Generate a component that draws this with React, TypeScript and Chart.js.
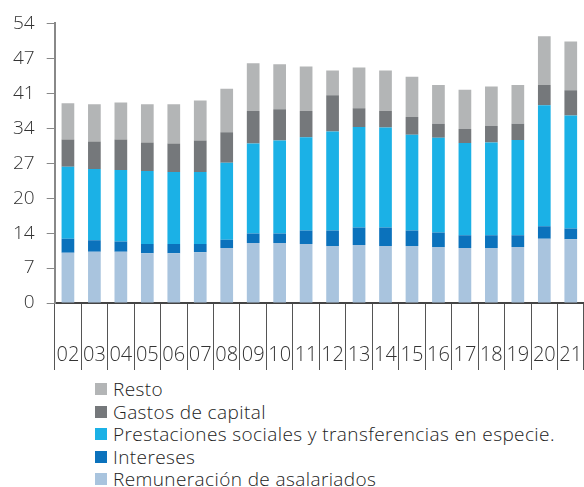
import React, { useEffect, useRef } from "react";
import { Chart, registerables } from "chart.js";

Chart.register(...registerables);

const years = ["02", "03", "04", "05", "06", "07", "08", "09", "10", "11", "12", "13", "14", "15", "16", "17", "18", "19", "20", "21"];
const remuneracion = [9.7, 9.9, 9.9, 9.6, 9.6, 9.8, 10.6, 11.6, 11.6, 11.4, 11.0, 11.2, 11.0, 11.0, 10.8, 10.6, 10.6, 10.8, 12.4, 12.3];
const intereses = [2.7, 2.2, 2.0, 1.8, 1.8, 1.6, 1.6, 1.8, 1.8, 2.6, 3.0, 3.4, 3.6, 3.0, 2.8, 2.5, 2.5, 2.3, 2.4, 2.1];
const prestaciones = [13.9, 13.8, 13.8, 14.1, 13.9, 13.9, 14.9, 17.4, 18.0, 18.0, 19.1, 19.4, 19.3, 18.5, 18.3, 17.8, 17.9, 18.4, 23.4, 21.8];
const gastosCapital = [5.3, 5.3, 5.9, 5.5, 5.5, 6.1, 5.9, 6.3, 6.0, 5.1, 7.0, 3.6, 3.2, 3.4, 2.7, 2.7, 3.2, 3.1, 3.9, 4.9];
const resto = [7.0, 7.2, 7.1, 7.4, 7.6, 7.7, 8.4, 9.2, 8.7, 8.6, 4.8, 7.9, 7.8, 7.8, 7.5, 7.6, 7.6, 7.5, 9.4, 9.4];

const seriesLabels = [
  "Remuneración de asalariados",
  "Intereses",
  "Prestaciones sociales y transferencias en especie.",
  "Gastos de capital",
  "Resto",
];
const seriesColors = ["#a9c4de", "#0b72bc", "#1bb1e6", "#75787b", "#b3b5b6"];
const seriesData = [remuneracion, intereses, prestaciones, gastosCapital, resto];

const FONT = "'Open Sans', 'Noto Sans', sans-serif";

export default function App() {
  const ref = useRef<HTMLCanvasElement | null>(null);

  useEffect(() => {
    if (!ref.current) return;
    const chart = new Chart(ref.current, {
      type: "bar",
      data: {
        labels: years,
        datasets: seriesData.map((d, i) => ({
          label: seriesLabels[i],
          data: d,
          backgroundColor: seriesColors[i],
          borderWidth: 0,
          barPercentage: 0.48,
          categoryPercentage: 1,
        })),
      },
      options: {
        animation: false,
        responsive: false,
        maintainAspectRatio: false,
        layout: { padding: { left: 1, top: 12, right: 0, bottom: 0 } },
        plugins: { legend: { display: false }, tooltip: { enabled: false } },
        scales: {
          x: {
            stacked: true,
            offset: true,
            afterFit: (s: any) => {
              s.height = 68;
            },
            grid: {
              offset: true,
              drawOnChartArea: false,
              drawTicks: true,
              tickLength: 67,
              color: "#555",
              lineWidth: 1,
            },
            border: { display: true, color: "#444", width: 2 },
            ticks: {
              padding: -27,
              color: "#333",
              font: { family: FONT, size: 20, weight: "300" as any },
              maxRotation: 0,
              autoSkip: false,
            },
          },
          y: {
            stacked: true,
            min: 0,
            max: 54,
            grid: {
              drawOnChartArea: false,
              tickLength: 8,
              color: "#888",
            },
            border: { display: true, color: "#888", width: 2 },
            ticks: {
              stepSize: 6.75,
              padding: 12,
              color: "#333",
              font: { family: FONT, size: 19, weight: "300" as any },
              callback: (v: any) => String(Math.round(Number(v))),
            },
          },
        },
      },
    });
    return () => chart.destroy();
  }, []);

  const legendOrder = [4, 3, 2, 1, 0];

  return (
    <div style={{ position: "absolute", left: 0, top: 0, width: 584, height: 487, background: "#fff", overflow: "hidden" }}>
      <canvas ref={ref} width={584} height={371} style={{ position: "absolute", left: 0, top: 0, width: 584, height: 371 }} />
      <div style={{ position: "absolute", left: 95, top: 378, fontFamily: FONT, fontWeight: 300, fontSize: 19, letterSpacing: "0.4px", color: "#222" }}>
        {legendOrder.map((i) => (
          <div key={i} style={{ display: "flex", alignItems: "center", height: 22.5, whiteSpace: "nowrap" }}>
            <span style={{ display: "inline-block", width: 12, height: 12, background: seriesColors[i], marginRight: 6, flex: "none" }} />
            <span>{seriesLabels[i]}</span>
          </div>
        ))}
      </div>
    </div>
  );
}
